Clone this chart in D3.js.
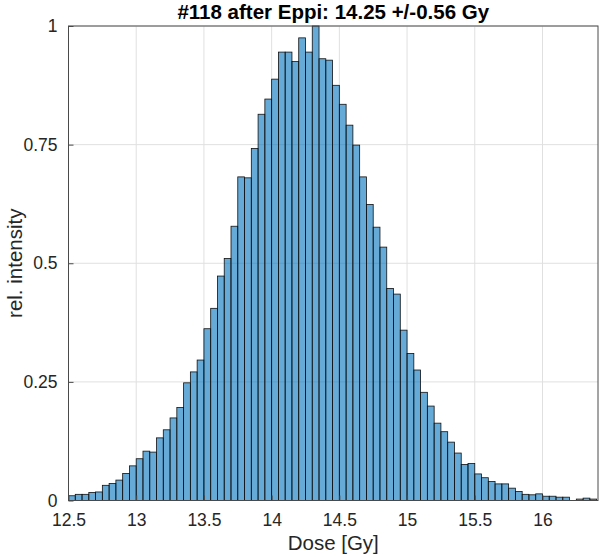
<!DOCTYPE html>
<html>
<head>
<meta charset="utf-8">
<script src="https://cdn.jsdelivr.net/npm/d3@7"></script>
<style>
  body { margin: 0; background: #fff; }
  text { font-family: 'Liberation Sans', Arial, Helvetica, sans-serif; }
</style>
</head>
<body>
<div id="chart"></div>
<script>
// histogram bins (Dose in Gy), uniform width
const binStart = 12.5;
const binWidth = 0.05;

// relative intensity of each bin
const intensities = [
  0.010, 0.013, 0.013, 0.017, 0.018, 0.032, 0.036, 0.043, 0.057, 0.073,
  0.088, 0.104, 0.102, 0.132, 0.149, 0.174, 0.196, 0.248, 0.271, 0.296,
  0.362, 0.405, 0.473, 0.510, 0.578, 0.682, 0.680, 0.742, 0.814, 0.846,
  0.888, 0.945, 0.945, 0.925, 0.975, 0.945, 1.000, 0.931, 0.928, 0.875,
  0.835, 0.791, 0.749, 0.682, 0.624, 0.576, 0.534, 0.447, 0.435, 0.359,
  0.310, 0.275, 0.228, 0.199, 0.163, 0.145, 0.123, 0.100, 0.076, 0.078,
  0.056, 0.048, 0.040, 0.035, 0.035, 0.026, 0.019, 0.013, 0.012, 0.014,
  0.009, 0.009, 0.007, 0.007, 0.000, 0.003, 0.005, 0.003
];

const xTicks = [12.5, 13, 13.5, 14, 14.5, 15, 15.5, 16];
const xTickLabels = ['12.5', '13', '13.5', '14', '14.5', '15', '15.5', '16'];
const yTicks = [0, 0.25, 0.5, 0.75, 1];
const yTickLabels = ['0', '0.25', '0.5', '0.75', '1'];

const xDomain = [12.5, 16.41];
const titleText = '#118 after Eppi: 14.25 +/-0.56 Gy';
const xLabelText = 'Dose [Gy]';
const yLabelText = 'rel. intensity';

const width = 603;
const height = 557;
const plot = { left: 68.5, right: 598, top: 26, bottom: 500.5 };
const tickFont = 17.5;
const labelFont = 20.5;

const bins = intensities.map((v, i) => ({
  x0: binStart + i * binWidth,
  x1: binStart + (i + 1) * binWidth,
  value: v
}));

const svg = d3.select('#chart')
  .append('svg')
  .attr('width', width)
  .attr('height', height);

const x = d3.scaleLinear().domain(xDomain).range([plot.left, plot.right]);
const y = d3.scaleLinear().domain([0, 1]).range([plot.bottom, plot.top]);

// grid
const grid = svg.append('g').attr('class', 'grid');
grid.selectAll('line.vgrid')
  .data(xTicks)
  .enter()
  .append('line')
  .attr('x1', d => x(d))
  .attr('x2', d => x(d))
  .attr('y1', plot.top)
  .attr('y2', plot.bottom)
  .attr('stroke', '#e0e0e0')
  .attr('stroke-width', 1);
grid.selectAll('line.hgrid')
  .data(yTicks)
  .enter()
  .append('line')
  .attr('x1', plot.left)
  .attr('x2', plot.right)
  .attr('y1', d => y(d))
  .attr('y2', d => y(d))
  .attr('stroke', '#e0e0e0')
  .attr('stroke-width', 1);

// bars
svg.append('g')
  .attr('class', 'bars')
  .selectAll('rect')
  .data(bins.filter(d => d.value > 0))
  .enter()
  .append('rect')
  .attr('x', d => x(d.x0))
  .attr('y', d => y(d.value))
  .attr('width', d => x(d.x1) - x(d.x0))
  .attr('height', d => y(0) - y(d.value))
  .attr('fill', '#0072BD')
  .attr('fill-opacity', 0.6)
  .attr('stroke', '#111')
  .attr('stroke-width', 0.8);

// axes (box with inward ticks)
const axisColor = '#4a4a4a';
const xAxis = d3.axisBottom(x).tickValues(xTicks).tickFormat((d, i) => xTickLabels[i]).tickSizeInner(-5).tickSizeOuter(0).tickPadding(13);
const yAxis = d3.axisLeft(y).tickValues(yTicks).tickFormat((d, i) => yTickLabels[i]).tickSizeInner(-5).tickSizeOuter(0).tickPadding(11);

const gx = svg.append('g')
  .attr('transform', 'translate(0,' + plot.bottom + ')')
  .call(xAxis);
const gy = svg.append('g')
  .attr('transform', 'translate(' + plot.left + ',0)')
  .call(yAxis);

[gx, gy].forEach(g => {
  g.select('.domain').remove();
  g.selectAll('.tick line').attr('stroke', axisColor);
  g.selectAll('.tick text')
    .attr('fill', '#262626')
    .style('font-size', tickFont + 'px')
    .style('font-family', "'Liberation Sans', Arial, sans-serif");
});

svg.append('rect')
  .attr('x', plot.left)
  .attr('y', plot.top)
  .attr('width', plot.right - plot.left)
  .attr('height', plot.bottom - plot.top)
  .attr('fill', 'none')
  .attr('stroke', axisColor)
  .attr('stroke-width', 1);

// title and labels
svg.append('text')
  .attr('x', (plot.left + plot.right) / 2)
  .attr('y', 18.5)
  .attr('text-anchor', 'middle')
  .style('font-size', labelFont + 'px')
  .style('font-weight', 'bold')
  .attr('fill', '#000')
  .text(titleText);

svg.append('text')
  .attr('x', (plot.left + plot.right) / 2)
  .attr('y', 550)
  .attr('text-anchor', 'middle')
  .style('font-size', labelFont + 'px')
  .attr('fill', '#262626')
  .text(xLabelText);

svg.append('text')
  .attr('transform', 'translate(22,' + (plot.top + plot.bottom) / 2 + ') rotate(-90)')
  .attr('text-anchor', 'middle')
  .style('font-size', labelFont + 'px')
  .attr('fill', '#262626')
  .text(yLabelText);
</script>
</body>
</html>
